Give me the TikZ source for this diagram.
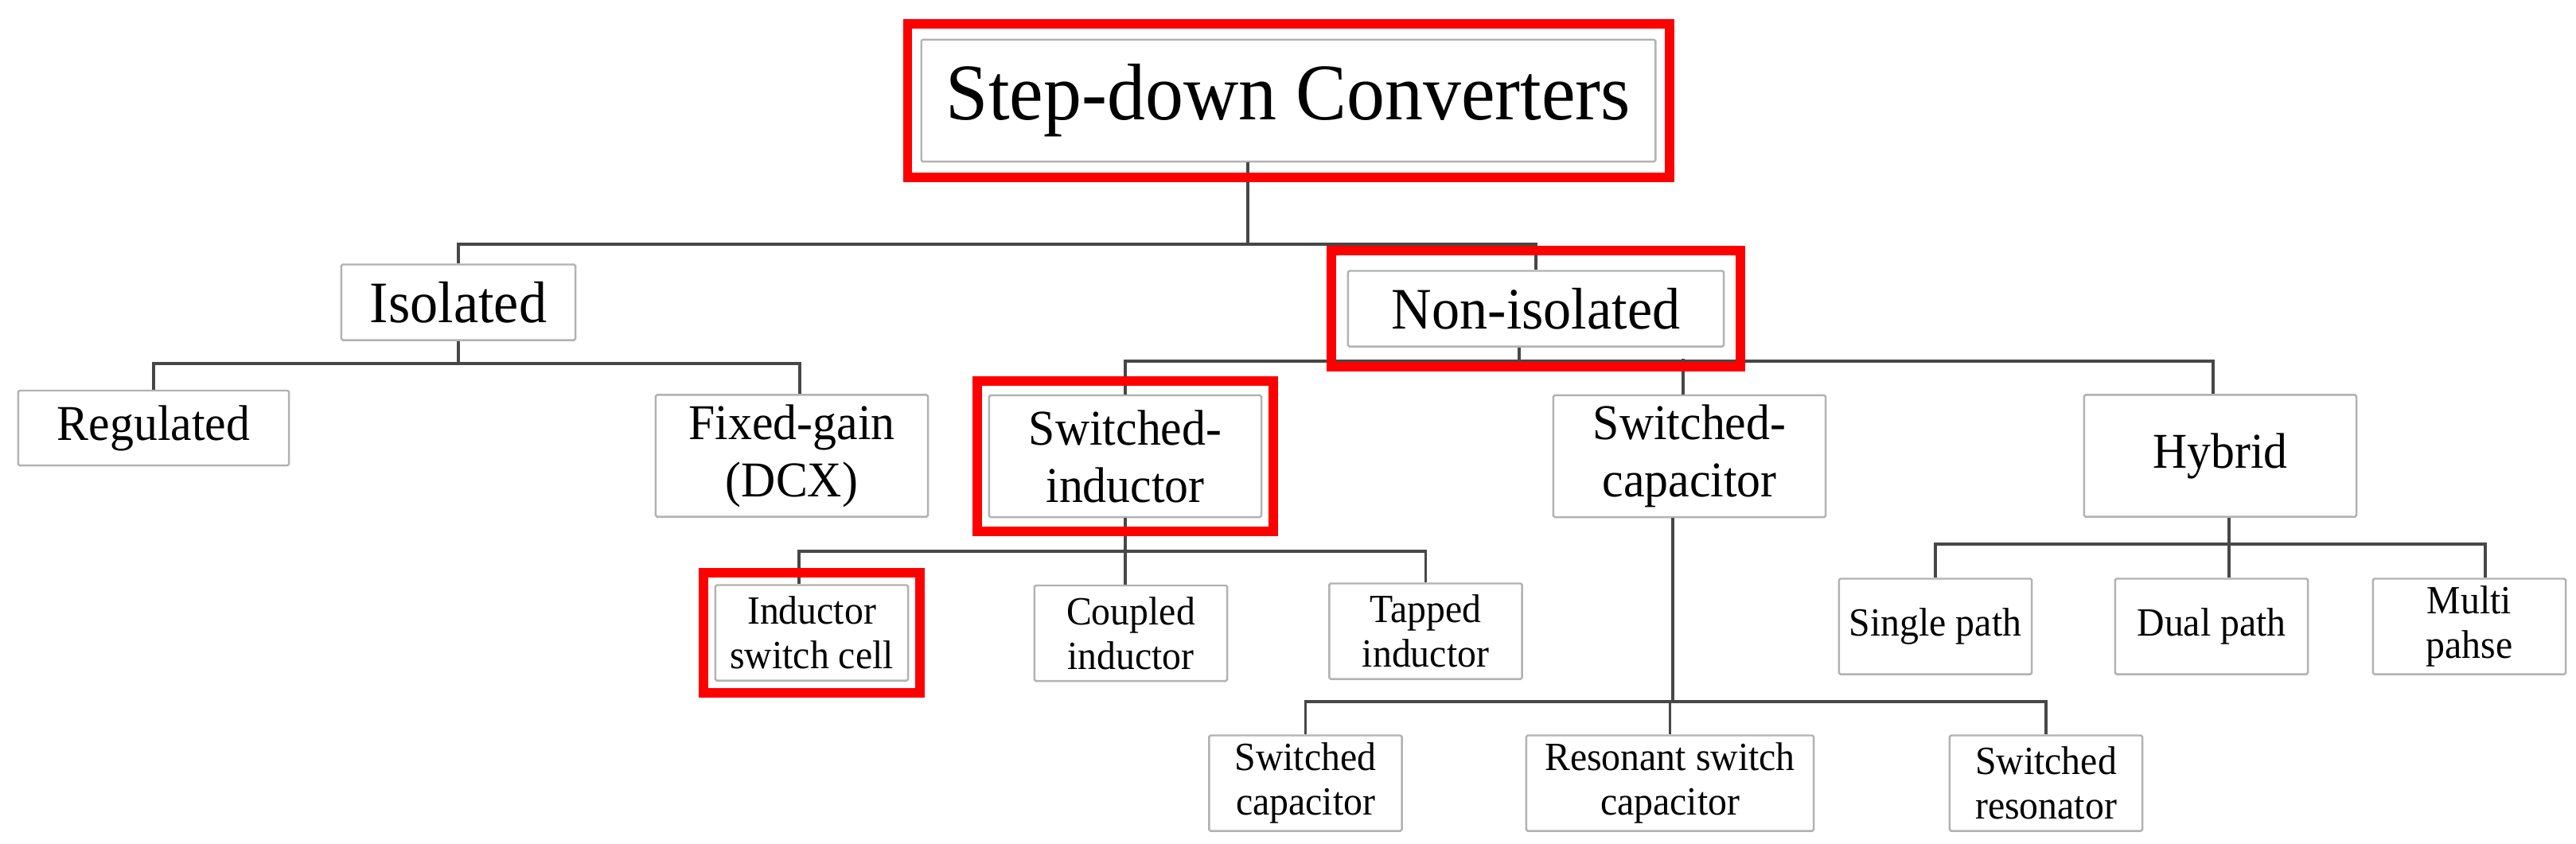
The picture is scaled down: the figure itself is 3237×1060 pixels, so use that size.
\documentclass[tikz,border=0pt]{standalone}
\usepackage{fontspec}
\setmainfont[FakeStretch=0.95]{Liberation Serif}
\usetikzlibrary{positioning, fit}

\tikzset{
  box/.style={draw=gray!60, line width=0.7pt, rounded corners=0.5pt,
    fill=white, align=center, inner sep=0pt},
  rootbox/.style={box, minimum width=9.22cm, minimum height=1.53cm,
    font=\fontsize{28.7}{33}\selectfont},
  classbox/.style={box, minimum height=0.95cm,
    font=\fontsize{21}{24}\selectfont},
  typebox/.style={box, minimum width=3.42cm, minimum height=1.53cm,
    font=\fontsize{17.9}{20.5}\selectfont},
  leafbox/.style={box, minimum width=2.42cm, minimum height=1.2cm,
    font=\fontsize{14.3}{15.9}\selectfont},
  link/.style={draw=black!72, line width=1.1pt},
  mark red/.style={draw=red, line width=3.4pt, inner sep=0pt}
}

\begin{document}
\begin{tikzpicture}[x=0.01cm, y=-0.01cm]
  \useasboundingbox (0,0) rectangle (3237,1060);

  % Root
  \node[rootbox] (root) at (1619,126.5) {Step-down Converters};

  % Isolated / non-isolated
  \node[classbox, minimum width=2.94cm] (iso) at (576,380) {Isolated};
  \node[classbox, minimum width=4.72cm] (noniso) at (1930,388) {Non-isolated};

  % Isolated branch
  \node[classbox, minimum width=3.40cm, minimum height=0.94cm,
        font=\fontsize{17.9}{20.5}\selectfont] (reg) at (193,538) {Regulated};
  \node[typebox] (fixed) at (995,573) {Fixed-gain\\(DCX)};

  % Non-isolated branch
  \node[typebox] (swind) at (1414,573.5) {Switched-\\inductor};
  \node[typebox] (swcap) at (2123,573.5) {Switched-\\capacitor};
  \node[typebox] (hybrid) at (2790,573) {Hybrid};

  % Switched-inductor leaves
  \node[leafbox] (cell) at (1020,795.5) {Inductor\\switch cell};
  \node[leafbox] (coupled) at (1421,796) {Coupled\\inductor};
  \node[leafbox] (tapped) at (1791.5,793.5) {Tapped\\inductor};

  % Switched-capacitor leaves
  \node[leafbox] (sccap) at (1640.5,984.5) {Switched\\capacitor};
  \node[leafbox, minimum width=3.61cm] (rscap) at (2098.5,984.5) {Resonant switch\\capacitor};
  \node[leafbox] (scres) at (2571,984.5) {Switched\\resonator};

  % Hybrid leaves
  \node[leafbox] (single) at (2432,787.5) {Single path};
  \node[leafbox] (dual) at (2779,787.5) {Dual path};
  \node[leafbox] (multi) at (3103,787.5) {Multi\\pahse};

  % Tree connectors
  \draw[link] ([xshift=-0.51cm]root.south) -- ++(0,103) coordinate (b0);
  \draw[link] (iso.north) |- (b0) -| (noniso.north);

  \draw[link] (iso.south) -- ++(0,28) coordinate (b1);
  \draw[link] (reg.north) |- (b1) -| ([xshift=0.1cm]fixed.north);

  \draw[link] ([xshift=-0.21cm]noniso.south) -- ++(0,17) coordinate (b2);
  \draw[link] (swind.north) |- (b2) -| ([xshift=-0.09cm]hybrid.north);
  \draw[link] ([xshift=-0.08cm]swcap.north) -- ++(0,-45);

  \draw[link] (swind.south) -- ++(0,42) coordinate (b3);
  \draw[link] ([xshift=-0.16cm]cell.north) |- (b3) -| (tapped.north);
  \draw[link] ([xshift=-0.07cm]coupled.north) -- ++(0,-43);

  \draw[link] ([xshift=-0.21cm]swcap.south) -- ++(0,231) coordinate (b4);
  \draw[link] (sccap.north) |- (b4) -| (scres.north);
  \draw[link] (rscap.north) -- (rscap.north |- b4);

  \draw[link] ([xshift=0.11cm]hybrid.south) -- ++(0,33) coordinate (b5);
  \draw[link] (single.north) |- (b5) -| ([xshift=0.2cm]multi.north);
  \draw[link] ([xshift=0.22cm]dual.north) -- ++(0,-44);

  % Highlights
  \node[mark red, fit=(root), inner xsep=0.16cm, inner ysep=0.19cm] (hlroot) {};
  \node[mark red, fit=(noniso), inner xsep=0.2cm, inner ysep=0.24cm] (hlnoniso) {};
  \node[mark red, fit=(swind), inner xsep=0.14cm, inner ysep=0.165cm] (hlswind) {};
  \node[mark red, fit=(cell), inner xsep=0.135cm, inner ysep=0.14cm] (hlcell) {};
\end{tikzpicture}
\end{document}
